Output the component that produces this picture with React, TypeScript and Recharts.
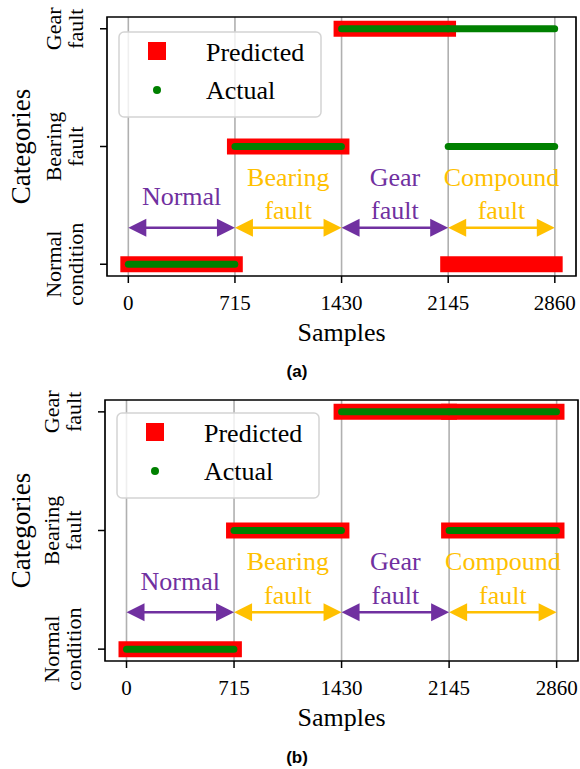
import React from "react";
import {
  CartesianGrid,
  Label,
  Legend,
  Line,
  LineChart,
  ReferenceArea,
  ReferenceDot,
  ReferenceLine,
  XAxis,
  YAxis,
} from "recharts";

// sample index where each condition starts (last value = end of record)
const boundaries = [0, 715, 1430, 2145, 2860];
const xTicks = [0, 715, 1430, 2145, 2860];
const categories = ["Normal condition", "Bearing fault", "Gear fault"];
const conditions = ["Normal", "Bearing fault", "Gear fault", "Compound fault"];

// category index per condition (compound = bearing + gear)
const actualCats = [[0], [1], [2], [1, 2]];
const predictedCatsA = [[0], [1], [2], [0]];
const predictedCatsB = [[0], [1], [2], [1, 2]];

const X_DOMAIN = [-143, 3002];
const Y_DOMAIN = [-0.1, 2.1];
const FONT = "'Liberation Serif', 'Times New Roman', serif";
const PURPLE = "#7030A0";
const GOLD = "#FFC000";
const conditionColors = [PURPLE, GOLD, PURPLE, GOLD];

const buildSegments = (cats: number[][]) => {
  const out: { key: string; points: { x: number; y: number }[] }[] = [];
  cats.forEach((list, i) => {
    list.forEach((c) => {
      out.push({
        key: `${i}-${c}`,
        points: [
          { x: boundaries[i], y: c },
          { x: boundaries[i + 1] - 1, y: c },
        ],
      });
    });
  });
  return out;
};

const CategoryTick = (props: any) => {
  const { x, y, payload } = props;
  const name: string = categories[payload.value] ?? "";
  const [first, ...rest] = name.split(" ");
  return (
    <g>
      <text
        transform={`translate(${x - 37},${y}) rotate(-90)`}
        textAnchor="middle"
        fontFamily={FONT}
        fontSize={22}
        fill="#000"
      >
        {first}
      </text>
      <text
        transform={`translate(${x - 15},${y}) rotate(-90)`}
        textAnchor="middle"
        fontFamily={FONT}
        fontSize={22}
        fill="#000"
      >
        {rest.join(" ")}
      </text>
    </g>
  );
};

const Arrow = (props: any) => {
  const { x1, y1, x2, y2, stroke } = props;
  const head = 18;
  const half = 9;
  return (
    <g>
      <line
        x1={x1 + head - 2}
        y1={y1}
        x2={x2 - head + 2}
        y2={y2}
        stroke={stroke}
        strokeWidth={2.5}
      />
      <polygon
        points={`${x1},${y1} ${x1 + head},${y1 - half} ${x1 + head},${y1 + half}`}
        fill={stroke}
      />
      <polygon
        points={`${x2},${y2} ${x2 - head},${y2 - half} ${x2 - head},${y2 + half}`}
        fill={stroke}
      />
    </g>
  );
};

const LegendBox = () => (
  <svg width={204} height={87} style={{ display: "block" }}>
    <rect
      x={1}
      y={1}
      width={202}
      height={85}
      rx={5}
      fill="#fff"
      fillOpacity={0.8}
      stroke="#d4d4d4"
      strokeWidth={1.5}
    />
    <rect x={30} y={11} width={18} height={18} fill="#ff0000" />
    <text x={88} y={30} fontFamily={FONT} fontSize={26} fill="#000">
      Predicted
    </text>
    <circle cx={39} cy={59} r={4} fill="#008000" />
    <text x={88} y={68} fontFamily={FONT} fontSize={26} fill="#000">
      Actual
    </text>
  </svg>
);

const SamplesLabel = (props: any) => {
  const vb = props.viewBox || {};
  return (
    <text
      x={vb.x + vb.width / 2}
      y={vb.y + 65}
      textAnchor="middle"
      fontFamily={FONT}
      fontSize={26}
      fill="#000"
    >
      Samples
    </text>
  );
};

const CategoriesLabel = (props: any) => {
  const vb = props.viewBox || {};
  return (
    <text
      transform={`translate(30,${vb.y + vb.height / 2}) rotate(-90)`}
      textAnchor="middle"
      fontFamily={FONT}
      fontSize={27}
      fill="#000"
    >
      Categories
    </text>
  );
};

interface PanelProps {
  predicted: number[][];
  height: number;
  left: number;
  right: number;
  axisHeight: number;
  legendTop: number;
}

const Panel = ({
  predicted,
  height,
  left,
  right,
  axisHeight,
  legendTop,
}: PanelProps) => {
  const predSegs = buildSegments(predicted);
  const actSegs = buildSegments(actualCats);

  return (
    <LineChart
      width={580}
      height={height}
      margin={{ top: 17, right, bottom: 0, left: 0 }}
    >
      <CartesianGrid
        horizontal={false}
        stroke="#b0b0b0"
        strokeWidth={1.6}
        strokeDasharray=""
      />
      <XAxis
        type="number"
        dataKey="x"
        domain={X_DOMAIN}
        ticks={xTicks}
        allowDataOverflow
        axisLine={false}
        tickLine={{ stroke: "#000", strokeWidth: 1.5 }}
        tickSize={7}
        tickMargin={12}
        height={axisHeight}
        tick={{ fontFamily: FONT, fontSize: 21, fill: "#000" }}
        label={<Label content={SamplesLabel} />}
      />
      <YAxis
        type="number"
        dataKey="y"
        domain={Y_DOMAIN}
        ticks={[0, 1, 2]}
        allowDataOverflow
        width={left}
        axisLine={false}
        tickLine={{ stroke: "#000", strokeWidth: 1.5 }}
        tickSize={7}
        tickMargin={2}
        tick={<CategoryTick />}
        label={<Label content={CategoriesLabel} />}
      />
      <Legend
        verticalAlign="middle"
        align="center"
        layout="horizontal"
        content={() => <LegendBox />}
        wrapperStyle={{ left: left + 11, top: legendTop, width: 204, height: 87 }}
      />
      {predSegs.map((s) => (
        <Line
          key={`p-${s.key}`}
          data={s.points}
          dataKey="y"
          stroke="#ff0000"
          strokeWidth={16}
          strokeLinecap="square"
          dot={false}
          activeDot={false}
          legendType="none"
          isAnimationActive={false}
        />
      ))}
      {actSegs.map((s) => (
        <Line
          key={`a-${s.key}`}
          data={s.points}
          dataKey="y"
          stroke="#008000"
          strokeWidth={7}
          strokeLinecap="round"
          dot={false}
          activeDot={false}
          legendType="none"
          isAnimationActive={false}
        />
      ))}
      {conditions.map((name, i) => (
        <ReferenceLine
          key={`arrow-${i}`}
          segment={[
            { x: boundaries[i], y: 0.31 },
            { x: boundaries[i + 1], y: 0.31 },
          ]}
          stroke={conditionColors[i]}
          shape={(p: any) => <Arrow {...p} stroke={conditionColors[i]} />}
        />
      ))}
      {conditions.map((name, i) => {
        const words = name.split(" ");
        const lines = words.length > 1 ? words : [name];
        const ys = lines.length > 1 ? [0.664, 0.384] : [0.5];
        const mid = (boundaries[i] + boundaries[i + 1]) / 2;
        return lines.map((txt, j) => (
          <ReferenceDot
            key={`txt-${i}-${j}`}
            x={mid}
            y={ys[j]}
            shape={(p: any) => (
              <text
                x={p.cx}
                y={p.cy}
                textAnchor="middle"
                fontFamily={FONT}
                fontSize={26}
                fill={conditionColors[i]}
              >
                {txt}
              </text>
            )}
          />
        ));
      })}
      <ReferenceArea
        x1={X_DOMAIN[0]}
        x2={X_DOMAIN[1]}
        y1={Y_DOMAIN[0]}
        y2={Y_DOMAIN[1]}
        fill="none"
        fillOpacity={0}
        stroke="#000"
        strokeWidth={1.6}
      />
    </LineChart>
  );
};

const captionStyle: React.CSSProperties = {
  position: "absolute",
  left: 0,
  width: 594,
  textAlign: "center",
  fontFamily: "'Liberation Sans', Arial, sans-serif",
  fontWeight: "bold",
  fontSize: 17,
  height: 20,
  lineHeight: "20px",
  color: "#000",
};

export default function App() {
  return (
    <div
      style={{
        position: "absolute",
        left: 0,
        top: 0,
        width: 580,
        height: 769,
        background: "#fff",
        overflow: "hidden",
      }}
    >
      <div style={{ position: "absolute", left: 0, top: 0 }}>
        <Panel
          predicted={predictedCatsA}
          height={385}
          left={107}
          right={4}
          axisHeight={109}
          legendTop={31}
        />
      </div>
      <div style={{ ...captionStyle, top: 362 }}>(a)</div>
      <div style={{ position: "absolute", left: 0, top: 383 }}>
        <Panel
          predicted={predictedCatsB}
          height={386}
          left={105}
          right={2}
          axisHeight={108}
          legendTop={29}
        />
      </div>
      <div style={{ ...captionStyle, top: 748 }}>(b)</div>
    </div>
  );
}
